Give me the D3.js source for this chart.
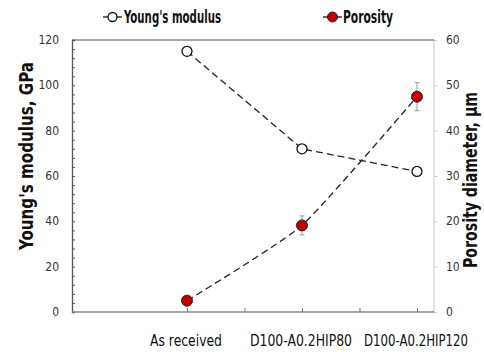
<!DOCTYPE html>
<html>
<head>
<meta charset="utf-8">
<script src="https://cdn.jsdelivr.net/npm/d3@7"></script>
<style>
body{margin:0;background:#fff;}
text{font-family:"Liberation Sans Narrow","DejaVu Sans Condensed",sans-serif;}
</style>
</head>
<body>
<svg id="graph" width="484" height="352"></svg>
<script>
'use strict'

var categories = ['As received','D100-A0.2HIP80','D100-A0.2HIP120'];
var modulus = [115, 72, 62];
var porosity = [2.5, 19.1, 47.5];
var porosityErr = [0.5, 2.1, 3.1];
var leftTicks = [0,20,40,60,80,100,120];
var rightTicks = [0,10,20,30,40,50,60];

var plotLeft = 72, plotRight = 434, plotTop = 40, plotBottom = 312;

var svg = d3.select('#graph');

var x = d3.scaleLinear().domain([-1, 2.148]).range([plotLeft, plotRight]);
var yLeft = d3.scaleLinear().domain([0,120]).range([plotBottom, plotTop]);
var yRight = d3.scaleLinear().domain([0,60]).range([plotBottom, plotTop]);

// frame
svg.append('line').attr('x1',plotLeft).attr('x2',plotRight).attr('y1',plotTop).attr('y2',plotTop)
	.attr('stroke','#888').attr('stroke-width',1.3);
svg.append('line').attr('x1',plotRight).attr('x2',plotRight).attr('y1',plotTop).attr('y2',plotBottom)
	.attr('stroke','#c8c8c8').attr('stroke-width',1);

// left axis, ticks inside every 4
var gl = svg.append('g').attr('transform','translate('+plotLeft+',0)')
	.call(d3.axisLeft(yLeft).tickValues(d3.range(0,121,4)).tickSize(-3).tickFormat(''));
gl.select('.domain').attr('stroke','#555').attr('stroke-width',1.3);
gl.selectAll('.tick line').attr('stroke','#555');
svg.selectAll('.lbl-left').data(leftTicks).enter().append('text')
	.attr('x',59).attr('y',function(d){return yLeft(d)+4;})
	.attr('text-anchor','end').attr('font-size',12).attr('fill','#333')
	.text(function(d){return d;});

// right axis, ticks outside every 10
var gr = svg.append('g').attr('transform','translate('+plotRight+',0)')
	.call(d3.axisRight(yRight).tickValues(rightTicks).tickSize(3).tickFormat(''));
gr.select('.domain').remove();
gr.selectAll('.tick line').attr('stroke','#c8c8c8');
svg.selectAll('.lbl-right').data(rightTicks).enter().append('text')
	.attr('x',446).attr('y',function(d){return yRight(d)+4;})
	.attr('text-anchor','start').attr('font-size',12).attr('fill','#333')
	.text(function(d){return d;});

// bottom axis, ticks inside
var gb = svg.append('g').attr('transform','translate(0,'+plotBottom+')')
	.call(d3.axisBottom(x).tickValues([0,0.5,1,1.5,2]).tickSize(-4).tickFormat(''));
gb.select('.domain').attr('d','M'+plotLeft+',0H'+plotRight).attr('stroke','#888').attr('stroke-width',1.3);
gb.selectAll('.tick line').attr('stroke','#777');
var catWidths = [72,102,104];
svg.selectAll('.lbl-cat').data(categories).enter().append('text')
	.attr('x',function(d,i){return x(i)-1;}).attr('y',346)
	.attr('text-anchor','middle').attr('font-size',15).attr('fill','#111')
	.attr('textLength',function(d,i){return catWidths[i];}).attr('lengthAdjust','spacingAndGlyphs')
	.text(function(d){return d;});

// axis titles
svg.append('text').attr('transform','translate(33,156) rotate(-90)')
	.attr('text-anchor','middle').attr('font-size',19).attr('font-weight','bold').attr('fill','#111')
	.attr('textLength',188).attr('lengthAdjust','spacingAndGlyphs')
	.text("Young's modulus, GPa");
svg.append('text').attr('transform','translate(477,180) rotate(-90)')
	.attr('text-anchor','middle').attr('font-size',19).attr('font-weight','bold').attr('fill','#111')
	.attr('textLength',176).attr('lengthAdjust','spacingAndGlyphs')
	.text('Porosity diameter, \u03bcm');

// modulus line
var modLine = d3.line().x(function(d,i){return x(i);}).y(function(d){return yLeft(d);});
svg.append('path').datum(modulus).attr('d',modLine).attr('fill','none')
	.attr('stroke','#222').attr('stroke-width',1.3).attr('stroke-dasharray','7,4');

// porosity line (smoothed)
var porLine = d3.line().x(function(d,i){return x(i);}).y(function(d){return yRight(d);})
	.curve(d3.curveCardinal.tension(0.5));
svg.append('path').datum(porosity).attr('d',porLine).attr('fill','none')
	.attr('stroke','#222').attr('stroke-width',1.3).attr('stroke-dasharray','7,4');

// error bars
for(var c = 0;c<porosity.length;c++){
	var ex = x(c), eTop = yRight(porosity[c]+porosityErr[c]), eBot = yRight(porosity[c]-porosityErr[c]);
	svg.append('line').attr('x1',ex).attr('x2',ex).attr('y1',eTop).attr('y2',eBot).attr('stroke','#999').attr('stroke-width',1);
	svg.append('line').attr('x1',ex-2.5).attr('x2',ex+2.5).attr('y1',eTop).attr('y2',eTop).attr('stroke','#999').attr('stroke-width',1);
	svg.append('line').attr('x1',ex-2.5).attr('x2',ex+2.5).attr('y1',eBot).attr('y2',eBot).attr('stroke','#999').attr('stroke-width',1);
}

// markers
svg.selectAll('.mod').data(modulus).enter().append('circle')
	.attr('cx',function(d,i){return x(i);}).attr('cy',function(d){return yLeft(d);})
	.attr('r',5).attr('fill','#fff').attr('stroke','#111').attr('stroke-width',1.3);
svg.selectAll('.por').data(porosity).enter().append('circle')
	.attr('cx',function(d,i){return x(i);}).attr('cy',function(d){return yRight(d);})
	.attr('r',5.5).attr('fill','#c00000').attr('stroke','#222').attr('stroke-width',1);

// legend
svg.append('line').attr('x1',103).attr('x2',122).attr('y1',17).attr('y2',17).attr('stroke','#111').attr('stroke-width',1.3);
svg.append('circle').attr('cx',112.5).attr('cy',17).attr('r',4.5).attr('fill','#fff').attr('stroke','#111').attr('stroke-width',1.3);
svg.append('text').attr('x',124).attr('y',23).attr('font-size',17).attr('font-weight','bold').attr('fill','#111')
	.attr('textLength',97).attr('lengthAdjust','spacingAndGlyphs').text("Young's modulus");
svg.append('line').attr('x1',323).attr('x2',342).attr('y1',17).attr('y2',17).attr('stroke','#111').attr('stroke-width',1.3);
svg.append('circle').attr('cx',332.5).attr('cy',17).attr('r',5).attr('fill','#c00000').attr('stroke','#222').attr('stroke-width',1);
svg.append('text').attr('x',343).attr('y',23).attr('font-size',17).attr('font-weight','bold').attr('fill','#111')
	.attr('textLength',50).attr('lengthAdjust','spacingAndGlyphs').text('Porosity');
</script>
</body>
</html>
